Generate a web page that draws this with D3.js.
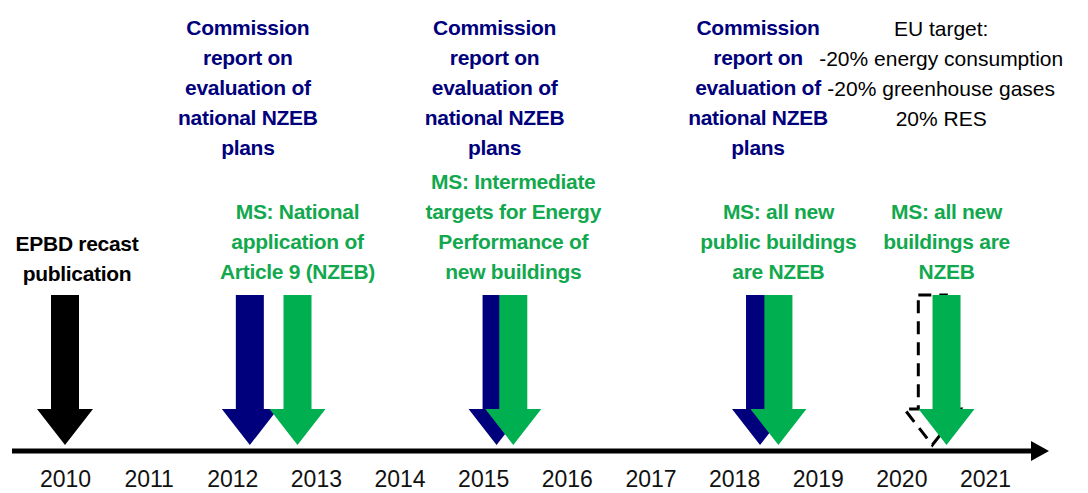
<!DOCTYPE html>
<html>
<head>
<meta charset="utf-8">
<script src="https://cdn.jsdelivr.net/npm/d3@7"></script>
<style>
  html, body { margin: 0; padding: 0; background: #fff; }
  svg { display: block; font-family: "Liberation Sans", Arial, sans-serif; }
</style>
</head>
<body>
<div id="chart"></div>
<script>
// timeline data (fractional years = where each arrow lands on the axis)
const years = [2010, 2011, 2012, 2013, 2014, 2015, 2016, 2017, 2018, 2019, 2020, 2021];
const epbdArrows = [2010.0];
const commissionArrows = [2012.21, 2015.16, 2018.31];
const msArrows = [2012.78, 2015.36, 2018.53, 2020.54];
const dashedArrows = [2020.37];

const epbdLabel = ["EPBD recast", "publication"];
const commissionLabel = ["Commission", "report on", "evaluation of", "national NZEB", "plans"];
const msLabels = [
    ["MS: National", "application of", "Article 9 (NZEB)"],
    ["MS: Intermediate", "targets for Energy", "Performance of", "new buildings"],
    ["MS: all new", "public buildings", "are NZEB"],
    ["MS: all new", "buildings are", "NZEB"]
];
const euTargetYear = 2020.5;
const euTargetLabel = ["EU target:", "-20% energy consumption", "-20% greenhouse gases", "20% RES"];

const width = 1088, height = 493;
const axisY = 451;
const shaftTop = 295, headTop = 409, tipY = 445;
const shaftHalf = 14, headHalf = 28;
const lineStep = 30;

const BLUE = "#00007c", GREEN = "#00b050", GREEN_TXT = "#12a84e";

const svg = d3.select("#chart").append("svg")
    .attr("width", width)
    .attr("height", height);

svg.append("rect").attr("width", width).attr("height", height).attr("fill", "#fff");

const x = d3.scaleLinear()
    .domain([2010, 2021])
    .range([65, 985]);

function arrowPath(cx) {
    const p = d3.path();
    p.moveTo(cx - shaftHalf, shaftTop);
    p.lineTo(cx + shaftHalf, shaftTop);
    p.lineTo(cx + shaftHalf, headTop);
    p.lineTo(cx + headHalf, headTop);
    p.lineTo(cx, tipY);
    p.lineTo(cx - headHalf, headTop);
    p.lineTo(cx - shaftHalf, headTop);
    p.closePath();
    return p.toString();
}

// axis line with arrow head
svg.append("line")
    .attr("x1", 12).attr("x2", 1034)
    .attr("y1", axisY).attr("y2", axisY)
    .attr("stroke", "#000").attr("stroke-width", 5);
svg.append("path")
    .attr("d", `M1031,${axisY - 10}L1049,${axisY}L1031,${axisY + 10}Z`)
    .attr("fill", "#000");

// year labels
const axis = svg.append("g")
    .attr("transform", `translate(0,${axisY})`)
    .call(d3.axisBottom(x).tickValues(years).tickFormat(d3.format("d")).tickSize(0).tickPadding(20));
axis.select(".domain").remove();
axis.selectAll("text")
    .attr("font-size", "23px")
    .attr("font-family", "Liberation Sans, Arial, sans-serif")
    .attr("fill", "#111");

// arrows: dashed outline behind, then black, blue, green
svg.selectAll("path.dashed").data(dashedArrows).enter()
    .append("path").attr("class", "dashed")
    .attr("d", d => arrowPath(x(d)))
    .attr("fill", "none")
    .attr("stroke", "#000")
    .attr("stroke-width", 3)
    .attr("stroke-dasharray", "13,8");

svg.selectAll("path.epbd").data(epbdArrows).enter()
    .append("path").attr("class", "epbd")
    .attr("d", d => arrowPath(x(d)))
    .attr("fill", "#000");

svg.selectAll("path.comm").data(commissionArrows).enter()
    .append("path").attr("class", "comm")
    .attr("d", d => arrowPath(x(d)))
    .attr("fill", BLUE);

svg.selectAll("path.ms").data(msArrows).enter()
    .append("path").attr("class", "ms")
    .attr("d", d => arrowPath(x(d)))
    .attr("fill", GREEN);

// text blocks
function block(cx, lines, firstBaseline, color, weight) {
    const t = svg.append("text")
        .attr("text-anchor", "middle")
        .attr("font-size", "21px")
        .attr("font-weight", weight)
        .attr("fill", color)
        .attr("letter-spacing", weight === "bold" ? "-0.3px" : "0px");
    lines.forEach((s, i) => {
        t.append("tspan")
            .attr("x", cx)
            .attr("y", firstBaseline + i * lineStep)
            .text(s);
    });
}

const bottomBaseline = 279;
block(x(epbdArrows[0]) + 12, epbdLabel, bottomBaseline - (epbdLabel.length - 1) * 28.5, "#000", "bold");

commissionArrows.forEach(d => {
    block(x(d) - 2, commissionLabel, 35, BLUE, "bold");
});

msArrows.forEach((d, i) => {
    const lines = msLabels[i];
    block(x(d), lines, bottomBaseline - (lines.length - 1) * lineStep, GREEN_TXT, "bold");
});

block(x(euTargetYear) - 2, euTargetLabel, 36, "#000", "normal");
</script>
</body>
</html>
